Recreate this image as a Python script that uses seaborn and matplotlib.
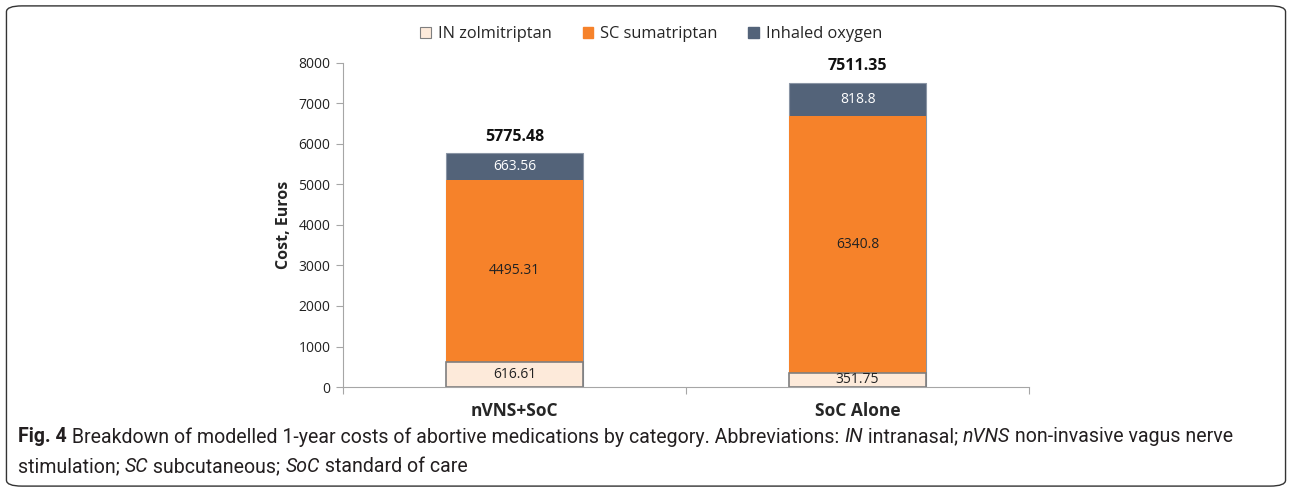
import numpy as np
import pandas as pd
import seaborn as sns
import matplotlib.pyplot as plt
from matplotlib.patches import Patch, FancyBboxPatch

# values
categories = ['nVNS+SoC', 'SoC Alone']
zolmitriptan = [616.61, 351.75]
sumatriptan = [4495.31, 6340.8]
oxygen = [663.56, 818.8]
series_names = ['IN zolmitriptan', 'SC sumatriptan', 'Inhaled oxygen']

col_zolmi = '#FDEADA'
col_suma = '#F6822A'
col_oxy = '#536379'

sns.set_style('white')
plt.rcParams['font.family'] = ['Open Sans', 'DejaVu Sans']

df = pd.DataFrame({'cat': categories, 'zolmi': zolmitriptan,
                   'suma': sumatriptan, 'oxy': oxygen})
df['lvl1'] = df['zolmi']
df['lvl2'] = df['zolmi'] + df['suma']
df['total'] = df['lvl2'] + df['oxy']

fig = plt.figure(figsize=(12.92, 4.92), dpi=100)
ax = fig.add_axes([0.2655, 0.2134, 0.531, 0.6586])

# stacked bars: draw cumulative heights from the top down
sns.barplot(data=df, x='cat', y='total', color=col_oxy, width=0.4,
            saturation=1, edgecolor='#8a95a5', linewidth=0.8, ax=ax)
sns.barplot(data=df, x='cat', y='lvl2', color=col_suma, width=0.4,
            saturation=1, linewidth=0, ax=ax)
sns.barplot(data=df, x='cat', y='lvl1', color=col_zolmi, width=0.4,
            saturation=1, edgecolor='#7f7f7f', linewidth=1.2, ax=ax)

# segment labels
for i, row in df.iterrows():
    ax.text(i, row['lvl1'] / 2, f"{row['zolmi']:g}", ha='center', va='center',
            fontsize=10, color='#222222')
    ax.text(i, (row['lvl1'] + row['lvl2']) / 2, f"{row['suma']:g}", ha='center',
            va='center', fontsize=10, color='#222222')
    ax.text(i, (row['lvl2'] + row['total']) / 2, f"{row['oxy']:g}", ha='center',
            va='center', fontsize=10, color='white')
    ax.annotate(f"{row['total']:.2f}", (i, row['total']), xytext=(0, 6),
                textcoords='offset points', ha='center', va='bottom',
                fontsize=11.5, fontweight='bold', color='#111111')

ax.set_ylim(0, 8000)
ax.set_xlim(-0.5, 1.5)
ax.set_yticks(np.arange(0, 8001, 1000))
ax.tick_params(axis='y', labelsize=10, colors='#222222', length=5, width=0.8,
               color='#a6a6a6', left=True, pad=4)
ax.set_xticks([-0.5, 0.5, 1.5], minor=True)
ax.tick_params(axis='x', which='minor', length=5, width=0.8, color='#a6a6a6',
               bottom=True, direction='out')
ax.tick_params(axis='x', which='major', length=0, labelsize=12.5, pad=11)
for lab in ax.get_xticklabels():
    lab.set_fontweight('bold')
ax.set_xlabel('')
ax.set_ylabel('Cost, Euros', fontsize=11.5, fontweight='bold', labelpad=5)
sns.despine(ax=ax)
for s in ['left', 'bottom']:
    ax.spines[s].set_color('#a6a6a6')
    ax.spines[s].set_linewidth(0.8)

handles = [Patch(facecolor=col_zolmi, edgecolor='#7f7f7f', linewidth=0.8),
           Patch(facecolor=col_suma, edgecolor=col_suma),
           Patch(facecolor=col_oxy, edgecolor=col_oxy)]
fig.legend(handles, series_names, loc='center', bbox_to_anchor=(0.504, 0.93),
           ncol=3, frameon=False, fontsize=11.8, handlelength=0.65,
           handleheight=0.65, handletextpad=0.4, columnspacing=1.9)

# rounded frame around the figure
fig.patches.append(FancyBboxPatch((0.005, 0.012), 0.99, 0.976,
                                  boxstyle='round,pad=0,rounding_size=0.012',
                                  transform=fig.transFigure, facecolor='none',
                                  edgecolor='#333333', linewidth=1.0))

# caption with mixed bold / italic pieces
cap_font = ['Roboto', 'DejaVu Sans']
line1 = [('Fig. 4', 'bold', 'normal'),
         (' Breakdown of modelled 1-year costs of abortive medications by category. Abbreviations: ', 'normal', 'normal'),
         ('IN', 'normal', 'italic'), (' intranasal; ', 'normal', 'normal'),
         ('nVNS', 'normal', 'italic'), (' non-invasive vagus nerve', 'normal', 'normal')]
line2 = [('stimulation; ', 'normal', 'normal'), ('SC', 'normal', 'italic'),
         (' subcutaneous; ', 'normal', 'normal'), ('SoC', 'normal', 'italic'),
         (' standard of care', 'normal', 'normal')]

renderer = fig.canvas.get_renderer()


def place_line(line, ypix, size):
    x = 18
    texts = []
    for txt, w, st in line:
        t = fig.text(x / 1292, 1 - ypix / 492, txt, fontsize=size, fontweight=w,
                     fontstyle=st, family=cap_font, va='center', ha='left',
                     color='#231f20')
        x += t.get_window_extent(renderer).width
        texts.append(t)
    return texts, x


# size the caption so the first line ends where it does in the reference
probe, end = place_line(line1, 437, 13)
for t in probe:
    t.remove()
cap_size = 13 * (1229 - 18) / (end - 18)
place_line(line1, 437, cap_size)
place_line(line2, 467, cap_size)

fig.savefig('out.png', dpi=100)
